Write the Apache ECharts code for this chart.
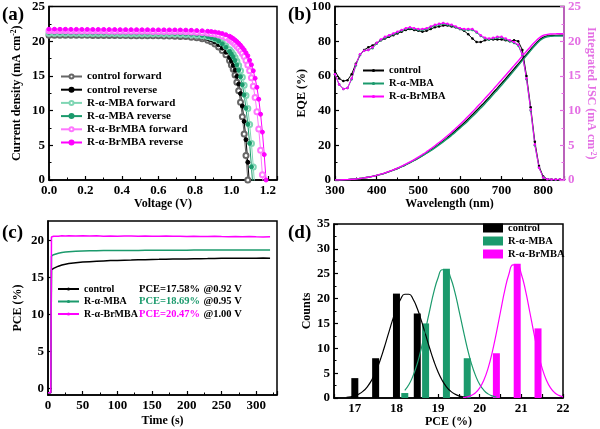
<!DOCTYPE html>
<html><head><meta charset="utf-8">
<script src="https://cdn.jsdelivr.net/npm/echarts@6/dist/echarts.min.js"></script>
<style>html,body{margin:0;padding:0;background:#fff}#c{width:600px;height:429px}</style>
</head><body><div id="c"></div>
<script>
// ---------- (a) J-V ----------
const voltage = [0,0.03,0.06,0.09,0.12,0.15,0.18,0.21,0.24,0.27,0.30,0.33,0.36,0.39,0.42,0.45,0.48,0.51,0.54,0.57,0.60,0.63,0.66,0.69,0.72,0.75,0.78,0.81,0.84,0.87,0.89,0.91,0.93,0.95,0.97,0.99,1.00,1.01,1.02,1.03,1.04,1.05,1.06,1.07,1.08,1.09,1.10,1.11,1.12,1.13,1.14,1.15,1.16,1.17,1.18,1.19,1.20];
const jCtrlFwd = [20.87,20.87,20.86,20.86,20.85,20.85,20.84,20.84,20.83,20.83,20.83,20.82,20.82,20.81,20.81,20.80,20.80,20.79,20.79,20.78,20.78,20.76,20.74,20.73,20.69,20.66,20.58,20.50,20.35,20.12,19.91,19.60,19.18,18.66,18.04,17.21,16.58,15.96,15.13,14.10,12.85,11.19,9.12,6.63,3.52,0.0,-3.1];
const jCtrlRev = [21.05,21.05,21.04,21.04,21.03,21.03,21.02,21.02,21.01,21.01,21.01,21.00,21.00,20.99,20.99,20.98,20.98,20.97,20.97,20.96,20.96,20.95,20.92,20.91,20.88,20.85,20.77,20.70,20.56,20.38,20.17,19.87,19.49,19.00,18.41,17.65,17.16,16.53,15.84,14.94,13.83,12.45,10.66,8.44,5.81,2.55,-0.94];
const jMbaFwd = [21.15,21.15,21.14,21.14,21.13,21.13,21.12,21.12,21.11,21.11,21.11,21.10,21.10,21.09,21.09,21.08,21.08,21.07,21.07,21.06,21.06,21.06,21.05,21.02,21.00,20.97,20.93,20.87,20.78,20.66,20.52,20.34,20.11,19.76,19.32,18.76,18.44,18.07,17.65,17.12,16.49,15.75,14.81,13.65,12.18,10.29,7.98,5.25,1.89,-1.7];
const jMbaRev = [21.25,21.25,21.24,21.24,21.23,21.23,21.22,21.22,21.21,21.21,21.21,21.20,21.20,21.19,21.19,21.18,21.18,21.17,21.17,21.16,21.16,21.16,21.15,21.12,21.10,21.06,21.01,20.95,20.85,20.69,20.54,20.33,20.04,19.64,19.14,18.53,18.16,17.74,17.21,16.57,15.83,14.88,13.72,12.24,10.34,8.02,5.28,1.90,-1.7];
const jBrFwd = [21.50,21.50,21.49,21.49,21.48,21.48,21.47,21.47,21.46,21.46,21.46,21.45,21.45,21.44,21.44,21.43,21.43,21.42,21.42,21.41,21.41,21.41,21.40,21.40,21.39,21.36,21.34,21.29,21.25,21.18,21.11,21.04,20.92,20.75,20.54,20.22,20.02,19.80,19.56,19.28,18.97,18.64,18.24,17.81,17.21,16.58,15.76,14.74,13.50,11.88,9.83,7.35,4.27,0.75,-2.6];
const jBrRev = [21.72,21.72,21.71,21.71,21.70,21.70,21.69,21.69,21.68,21.68,21.68,21.67,21.67,21.66,21.66,21.65,21.65,21.64,21.64,21.63,21.63,21.63,21.62,21.62,21.61,21.59,21.57,21.53,21.50,21.43,21.39,21.32,21.23,21.10,20.93,20.71,20.55,20.38,20.17,19.95,19.69,19.41,19.08,18.76,18.33,17.90,17.25,16.60,15.74,14.66,13.36,11.64,9.48,6.90,3.66,0.0,-3.2];

// ---------- (b) EQE + integrated Jsc ----------
const wavelength = [300,310,320,330,340,350,360,370,380,390,400,410,420,430,440,450,460,470,480,490,500,510,520,530,540,550,560,570,580,590,600,610,620,630,640,650,660,670,680,690,700,710,720,730,740,750,760,770,780,790,800,810,820,830,840,850];
const eqeCtrl = [63,58.5,57,57.5,61,67,72,75,76.5,77.5,79,80.5,81.5,82.5,83.5,84.5,85.5,86.5,87,86.5,86,85.5,86,87,88,88.5,89,89,88.5,88,87,86,84,81.5,79.5,79.5,80.5,81,81,81,81,80.5,80,80.5,80,75,60,42,22,8,2,0.5,0.3,0.3,0.3,0.3];
const eqeMba = [61,55,52.5,53,58,66,72,74.5,75,76,78.5,80.5,82,83,84,85,86,87,87.5,87,86.5,86.5,87,88,89,89.5,90,89.5,89,88,87,86.5,86.5,86.5,85,83,81.5,81,81.5,82,82,81,80,79,77.5,72,58,40,20,7,1.5,0.4,0.2,0.2,0.2,0.2];
const eqeBr = [61,55,52.5,53,58.5,66.5,72.5,74.5,75,76.5,79,81,82.5,83.5,84.5,85.5,86.5,87.5,88,87.5,87,87,87.5,88.5,89.5,90,90.5,90,89.5,88.5,87.5,87,87,87,85.5,83.5,82,81.5,82,82.5,82.5,81.5,80.5,79.5,78,72.5,58.5,40.5,20.5,7,1.5,0.5,0.3,0.3,0.3,0.3];
const jscCtrl = [0,0.01,0.03,0.06,0.10,0.15,0.22,0.30,0.40,0.52,0.66,0.82,1.00,1.20,1.42,1.66,1.92,2.20,2.50,2.82,3.16,3.52,3.90,4.30,4.72,5.16,5.62,6.10,6.60,7.12,7.66,8.22,8.80,9.40,10.00,10.62,11.25,11.90,12.56,13.24,13.92,14.60,15.30,16.00,16.70,17.40,18.10,18.80,19.50,20.10,20.55,20.75,20.82,20.84,20.85,20.85];
const jscMba = [0,0.01,0.03,0.06,0.10,0.15,0.22,0.30,0.40,0.52,0.66,0.82,1.00,1.20,1.42,1.66,1.92,2.20,2.50,2.82,3.15,3.50,3.86,4.24,4.64,5.06,5.50,5.96,6.44,6.94,7.46,8.00,8.56,9.14,9.74,10.36,10.99,11.64,12.30,12.98,13.66,14.35,15.05,15.76,16.48,17.20,17.92,18.64,19.34,19.96,20.42,20.64,20.72,20.74,20.75,20.75];
const jscBr = [0,0.01,0.03,0.06,0.10,0.15,0.22,0.30,0.40,0.52,0.67,0.84,1.03,1.24,1.47,1.72,1.99,2.28,2.60,2.94,3.30,3.68,4.08,4.50,4.94,5.40,5.88,6.38,6.90,7.44,8.00,8.58,9.18,9.80,10.44,11.08,11.73,12.39,13.06,13.74,14.42,15.10,15.79,16.48,17.17,17.86,18.55,19.24,19.88,20.45,20.82,20.98,21.04,21.06,21.07,21.07];

// ---------- (c) stabilized PCE ----------
const timeS = [0,2,4,5,6,8,10,15,20,25,30,40,50,60,70,80,90,100,110,120,130,140,150,160,170,180,190,200,210,220,230,240,250,260,270,280,290,300,310,320];
const pceCtrl = [-0.6,-0.6,-0.6,16.0,16.1,16.2,16.3,16.5,16.65,16.75,16.85,16.95,17.05,17.1,17.15,17.2,17.25,17.28,17.3,17.32,17.35,17.37,17.4,17.42,17.45,17.46,17.47,17.48,17.5,17.5,17.52,17.55,17.56,17.57,17.57,17.58,17.58,17.58,17.6,17.58];
const pceMba = [-0.6,-0.6,-0.6,17.85,17.95,18.05,18.15,18.25,18.35,18.4,18.45,18.5,18.55,18.57,18.58,18.6,18.6,18.62,18.62,18.63,18.63,18.64,18.64,18.65,18.65,18.65,18.66,18.66,18.67,18.67,18.68,18.68,18.68,18.68,18.69,18.69,18.69,18.69,18.7,18.69];
const pceBr = [-0.6,-0.6,-0.6,20.45,20.5,20.55,20.5,20.55,20.6,20.58,20.62,20.58,20.6,20.57,20.6,20.55,20.58,20.55,20.57,20.56,20.55,20.58,20.55,20.54,20.56,20.53,20.55,20.52,20.54,20.52,20.5,20.53,20.5,20.48,20.5,20.47,20.49,20.46,20.45,20.48];
const pceLabels = ['PCE=17.58%', 'PCE=18.69%', 'PCE=20.47%'];
const mppLabels = ['@0.92 V', '@0.95 V', '@1.00 V'];

// ---------- (d) histogram ----------
const binCtrl = [17.0,17.5,18.0,18.5];
const cntCtrl = [4,8,21,17];
const binMba = [18.2,18.7,19.2,19.7];
const cntMba = [1,15,26,8];
const binBr = [20.4,20.9,21.4];
const cntBr = [9,27,14];
const fitXCtrl = [16.8,16.9,17.0,17.1,17.2,17.3,17.4,17.5,17.6,17.7,17.8,17.9,18.0,18.1,18.2,18.3,18.4,18.5,18.6,18.7,18.8,18.9,19.0,19.1,19.2,19.3,19.4,19.5,19.6,19.7];
const fitYCtrl = [0.12,0.23,0.44,0.80,1.38,2.26,3.53,5.24,7.4,9.95,12.74,15.5,18.0,19.87,20.87,20.87,19.87,18.0,15.5,12.74,9.95,7.4,5.24,3.53,2.26,1.38,0.80,0.44,0.23,0.12];
const fitXMba = [18.2,18.3,18.4,18.5,18.6,18.7,18.8,18.9,19.0,19.1,19.2,19.3,19.4,19.5,19.6,19.7,19.8,19.9,20.0,20.1,20.2,20.3,20.4];
const fitYMba = [1.55,2.7,4.5,6.9,10.1,13.8,17.7,21.4,24.2,25.8,25.8,24.2,21.4,17.7,13.8,10.1,6.9,4.5,2.7,1.55,0.83,0.42,0.2];
const fitXBr = [19.6,19.7,19.8,19.9,20.0,20.1,20.2,20.3,20.4,20.5,20.6,20.7,20.8,20.9,21.0,21.1,21.2,21.3,21.4,21.5,21.6,21.7,21.8,21.9,22.0];
const fitYBr = [0.10,0.24,0.53,1.07,2.04,3.62,5.97,9.2,13.1,17.4,21.6,24.9,26.76,26.76,24.9,21.6,17.4,13.1,9.2,5.97,3.62,2.04,1.07,0.53,0.24];

// ---------- styling ----------
const F = '"Liberation Serif","Times New Roman",serif';
const BLACK = '#000', GREEN = '#1b9a6c', LGREEN = '#7fd6b4', MAG = '#ff00ff', LMAG = '#ff77ff', GRAY = '#666', VIOLET = '#e46fe4';
const pairs = (xs, ys) => ys.map((y, i) => [xs[i], y]);
const strip = n => n.split('#')[0];
const lbl = (c) => ({color: c || BLACK, fontFamily: F, fontWeight: 'bold', fontSize: 13, margin: 4});
const nameStyle = (c) => ({color: c || BLACK, fontFamily: F, fontWeight: 'bold', fontSize: 12,
  rich: {n: {color: c || BLACK, fontFamily: F, fontWeight: 'bold', fontSize: 12, lineHeight: 13},
         s: {color: c || BLACK, fontFamily: F, fontWeight: 'bold', fontSize: 7.5, lineHeight: 7, verticalAlign: 'top'}}});
function ax(o) {
  return Object.assign({
    axisLine: {show: true, onZero: false, lineStyle: {color: BLACK, width: 1.5}},
    axisTick: {show: true, inside: true, length: 4, lineStyle: {color: BLACK, width: 1.2}},
    minorTick: {show: true, splitNumber: 2, length: 2.5, lineStyle: {color: BLACK, width: 1}},
    splitLine: {show: false}, minorSplitLine: {show: false},
    axisLabel: lbl(), nameLocation: 'middle', nameTextStyle: nameStyle()
  }, o);
}
const gridBase = {show: true, borderColor: BLACK, borderWidth: 1.5, backgroundColor: 'transparent'};

const series = [];
function jv(name, data, color, sym, size) {
  series.push({name: name, type: 'line', xAxisIndex: 0, yAxisIndex: 0, data: pairs(voltage, data),
    symbol: sym, symbolSize: size, lineStyle: {color: color, width: 1}, itemStyle: {color: color, borderColor: color, borderWidth: 1},
    showAllSymbol: true, clip: true, animation: false});
}
jv('control forward', jCtrlFwd, GRAY, 'emptyCircle', 5);
jv('control reverse', jCtrlRev, BLACK, 'circle', 4);
jv('R-α-MBA forward', jMbaFwd, LGREEN, 'emptyCircle', 5);
jv('R-α-MBA reverse', jMbaRev, GREEN, 'circle', 4);
jv('R-α-BrMBA forward', jBrFwd, LMAG, 'emptyCircle', 5);
jv('R-α-BrMBA reverse', jBrRev, MAG, 'circle', 4);

function eqe(name, data, color) {
  series.push({name: name, type: 'line', xAxisIndex: 1, yAxisIndex: 1, data: pairs(wavelength, data),
    symbol: 'circle', symbolSize: 2.5, lineStyle: {color: color, width: 1}, itemStyle: {color: color},
    showAllSymbol: true, animation: false});
}
eqe('control#b', eqeCtrl, BLACK);
eqe('R-α-MBA#b', eqeMba, GREEN);
eqe('R-α-BrMBA#b', eqeBr, MAG);
function jsc(name, data, color) {
  series.push({name: name, type: 'line', xAxisIndex: 1, yAxisIndex: 2, data: pairs(wavelength, data),
    symbol: 'none', smooth: true, lineStyle: {color: color, width: 1.4}, animation: false});
}
jsc('jsc control', jscCtrl, BLACK);
jsc('jsc MBA', jscMba, GREEN);
jsc('jsc BrMBA', jscBr, MAG);

function pce(name, data, color) {
  series.push({name: name, type: 'line', xAxisIndex: 2, yAxisIndex: 3, data: pairs(timeS, data),
    symbol: 'none', lineStyle: {color: color, width: 1.5}, itemStyle: {color: color}, animation: false});
}
pce('control#c', pceCtrl, BLACK);
pce('R-α-MBA#c', pceMba, GREEN);
pce('R-α-BrMBA#c', pceBr, MAG);

function bars(name, xs, ys, color) {
  series.push({name: name, type: 'bar', xAxisIndex: 3, yAxisIndex: 4, data: pairs(xs, ys),
    barWidth: 7, barGap: '-100%', itemStyle: {color: color}, animation: false});
}
bars('control#d', binCtrl, cntCtrl, BLACK);
bars('R-α-MBA#d', binMba, cntMba, GREEN);
bars('R-α-BrMBA#d', binBr, cntBr, MAG);
function fit(name, xs, ys, color) {
  series.push({name: name, type: 'line', xAxisIndex: 3, yAxisIndex: 4, data: pairs(xs, ys),
    symbol: 'none', smooth: true, lineStyle: {color: color, width: 1.2}, animation: false, z: 3});
}
fit('fit control', fitXCtrl, fitYCtrl, BLACK);
fit('fit MBA', fitXMba, fitYMba, GREEN);
fit('fit BrMBA', fitXBr, fitYBr, MAG);

const legText = (fs, lh) => ({fontFamily: F, fontWeight: 'bold', fontSize: fs, color: BLACK, lineHeight: lh});

const option = {
  animation: false,
  backgroundColor: '#fff',
  grid: [
    Object.assign({left: 49, top: 5, width: 228, height: 175}, gridBase),
    Object.assign({left: 335, top: 5, width: 229, height: 175}, gridBase),
    Object.assign({left: 48, top: 221, width: 229, height: 174}, gridBase),
    Object.assign({left: 334, top: 224, width: 229, height: 174}, gridBase)
  ],
  xAxis: [
    ax({gridIndex: 0, type: 'value', min: 0, max: 1.25, interval: 0.2, name: 'Voltage (V)', nameGap: 15,
        axisLabel: Object.assign(lbl(), {showMaxLabel: false, formatter: v => v.toFixed(1)})}),
    ax({gridIndex: 1, type: 'value', min: 300, max: 850, interval: 100, name: 'Wavelength (nm)', nameGap: 16,
        axisLabel: Object.assign(lbl(), {showMaxLabel: false})}),
    ax({gridIndex: 2, type: 'value', min: 0, max: 330, interval: 50, name: 'Time (s)', nameGap: 20,
        axisLabel: Object.assign(lbl(), {showMaxLabel: false})}),
    ax({gridIndex: 3, type: 'value', min: 16.5, max: 22, interval: 0.5, name: 'PCE (%)', nameGap: 17,
        minorTick: {show: false},
        axisLabel: Object.assign(lbl(), {customValues: [17, 18, 19, 20, 21, 22]})})
  ],
  yAxis: [
    ax({gridIndex: 0, type: 'value', min: 0, max: 25, interval: 5, nameGap: 26,
        name: '{n|Current density (mA cm}{s|-2}{n|)}'}),
    ax({gridIndex: 1, type: 'value', min: 0, max: 100, interval: 20, name: 'EQE (%)', nameGap: 23}),
    ax({gridIndex: 1, type: 'value', position: 'right', min: 0, max: 25, interval: 5, z: 5,
        name: '{n|Integrated JSC (mA cm}{s|-2}{n|)}', nameGap: 20, nameRotate: -90,
        axisLine: {show: true, onZero: false, lineStyle: {color: VIOLET, width: 1.5}},
        axisTick: {show: true, inside: true, length: 4, lineStyle: {color: VIOLET, width: 1.2}},
        minorTick: {show: true, splitNumber: 2, length: 2.5, lineStyle: {color: VIOLET, width: 1}},
        axisLabel: lbl(VIOLET), nameTextStyle: nameStyle(VIOLET)}),
    ax({gridIndex: 2, type: 'value', min: -0.9, max: 22.6, name: 'PCE (%)', nameGap: 24,
        minorTick: {show: false},
        axisTick: {show: true, inside: true, length: 4, customValues: [0, 5, 10, 15, 20], lineStyle: {color: BLACK, width: 1.2}},
        axisLabel: Object.assign(lbl(), {customValues: [0, 5, 10, 15, 20]})}),
    ax({gridIndex: 3, type: 'value', min: 0, max: 35, interval: 5, name: 'Counts', nameGap: 21})
  ],
  legend: [
    {data: ['control forward', 'control reverse', 'R-α-MBA forward', 'R-α-MBA reverse', 'R-α-BrMBA forward', 'R-α-BrMBA reverse'],
     orient: 'vertical', left: 60, top: 70.5, padding: 0, itemWidth: 21, itemHeight: 5, itemGap: 1.2, selectedMode: false, textStyle: legText(11, 12)},
    {data: ['control#b', 'R-α-MBA#b', 'R-α-BrMBA#b'], formatter: strip, padding: 0,
     orient: 'vertical', left: 362, top: 64.5, itemWidth: 21, itemHeight: 4, itemGap: 1, selectedMode: false, textStyle: legText(10.5, 12)},
    {data: ['control#c', 'R-α-MBA#c', 'R-α-BrMBA#c'], formatter: strip, padding: 0,
     orient: 'vertical', left: 57, top: 283, itemWidth: 21, itemHeight: 4, itemGap: 0.5, selectedMode: false, textStyle: legText(10, 12)},
    {data: ['control#d', 'R-α-MBA#d', 'R-α-BrMBA#d'], formatter: strip, icon: 'rect', padding: 0,
     orient: 'vertical', left: 483, top: 222.5, itemWidth: 20, itemHeight: 9, itemGap: 2, selectedMode: false, textStyle: legText(10.5, 9)}
  ],
  graphic: [
    {type: 'text', x: 2, y: 6, style: {text: '(a)', font: 'bold 19px ' + F, fill: BLACK}},
    {type: 'text', x: 288, y: 6, style: {text: '(b)', font: 'bold 19px ' + F, fill: BLACK}},
    {type: 'text', x: 2, y: 224, style: {text: '(c)', font: 'bold 19px ' + F, fill: BLACK}},
    {type: 'text', x: 288, y: 224, style: {text: '(d)', font: 'bold 19px ' + F, fill: BLACK}},
    {type: 'text', x: 139, y: 289, style: {text: '{k|' + pceLabels[0] + '} {k|' + mppLabels[0] + '}', verticalAlign: 'middle',
      rich: {k: {font: 'bold 10.5px ' + F, fill: BLACK}}}},
    {type: 'text', x: 139, y: 301.5, style: {text: '{g|' + pceLabels[1] + '} {k|' + mppLabels[1] + '}', verticalAlign: 'middle',
      rich: {g: {font: 'bold 10.5px ' + F, fill: GREEN}, k: {font: 'bold 10.5px ' + F, fill: BLACK}}}},
    {type: 'text', x: 139, y: 314, style: {text: '{m|' + pceLabels[2] + '} {k|' + mppLabels[2] + '}', verticalAlign: 'middle',
      rich: {m: {font: 'bold 10.5px ' + F, fill: MAG}, k: {font: 'bold 10.5px ' + F, fill: BLACK}}}}
  ],
  series: series
};
const chart = echarts.init(document.getElementById('c'), null, {renderer: 'canvas'});
chart.setOption(option);
</script>
</body></html>
